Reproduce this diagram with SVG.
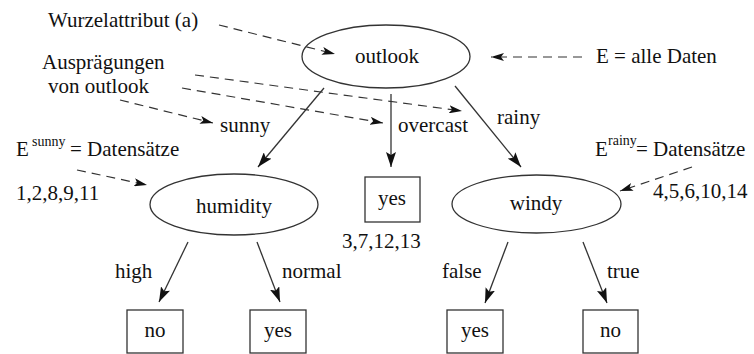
<svg xmlns="http://www.w3.org/2000/svg" width="754" height="354" viewBox="0 0 754 354" font-family="Liberation Serif, serif">
<style>
text{font-family:'Liberation Serif',serif;font-size:21px;fill:#111}
.m{text-anchor:middle}
.sup{font-size:14px}
.node{fill:#fff;stroke:#333;stroke-width:1.3}
.edge{fill:none;stroke:#333;stroke-width:1.3}
.dash{fill:none;stroke:#333;stroke-width:1.2;stroke-dasharray:9 6}
</style>
<defs>
<marker id="ah" markerUnits="userSpaceOnUse" markerWidth="16" markerHeight="10" refX="15" refY="5" orient="auto">
<path d="M0,0 L15,5 L0,10 L3,5 z" fill="#111"/>
</marker>
<marker id="ahd" markerUnits="userSpaceOnUse" markerWidth="14" markerHeight="8" refX="13" refY="4" orient="auto">
<path d="M0,0 L13,4 L0,8 L3,4 z" fill="#111"/>
</marker>
</defs>
<rect width="754" height="354" fill="#fff"/>
<g id="outlook">
<ellipse class="node" cx="386" cy="56.5" rx="84" ry="31.5"/>
<text class="m" x="387" y="63" font-family="Liberation Serif, serif">outlook</text>
</g>
<g id="humidity">
<ellipse class="node" cx="234" cy="204.5" rx="84" ry="30.5"/>
<text class="m" x="234" y="213" font-family="Liberation Serif, serif">humidity</text>
</g>
<g id="windy">
<ellipse class="node" cx="536.5" cy="204" rx="84.5" ry="29"/>
<text class="m" x="536" y="210" font-family="Liberation Serif, serif">windy</text>
</g>
<g id="yes_overcast">
<rect class="node" x="365" y="177" width="55" height="45"/>
<text class="m" x="392" y="205" font-family="Liberation Serif, serif">yes</text>
</g>
<g id="no_high">
<rect class="node" x="127" y="310" width="56" height="43"/>
<text class="m" x="155" y="337" font-family="Liberation Serif, serif">no</text>
</g>
<g id="yes_normal">
<rect class="node" x="250" y="310" width="56" height="43"/>
<text class="m" x="278" y="337" font-family="Liberation Serif, serif">yes</text>
</g>
<g id="yes_false">
<rect class="node" x="447" y="310" width="56" height="43"/>
<text class="m" x="475" y="337" font-family="Liberation Serif, serif">yes</text>
</g>
<g id="no_true">
<rect class="node" x="583" y="310" width="55" height="43"/>
<text class="m" x="610.5" y="337" font-family="Liberation Serif, serif">no</text>
</g>
<g id="connectors">
<path class="edge" d="M324,88 L258,167" marker-end="url(#ah)"/>
<path class="edge" d="M391,94 L391,167" marker-end="url(#ah)"/>
<path class="edge" d="M455,86 L521,167" marker-end="url(#ah)"/>
<path class="edge" d="M188,242 L159,302" marker-end="url(#ah)"/>
<path class="edge" d="M257,242 L280,302" marker-end="url(#ah)"/>
<path class="edge" d="M508,242 L485,303" marker-end="url(#ah)"/>
<path class="edge" d="M583,242 L607,303" marker-end="url(#ah)"/>
<path class="dash" d="M219,25 L335,54" marker-end="url(#ahd)"/>
<path class="dash" d="M195,75 L462,111" marker-end="url(#ahd)"/>
<path class="dash" d="M182,88 L383,123" marker-end="url(#ahd)"/>
<path class="dash" d="M120,100 L213,123" marker-end="url(#ahd)"/>
<path class="dash" d="M582,57 L491,57" marker-end="url(#ahd)"/>
<path class="dash" d="M77,170 L147,185" marker-end="url(#ahd)"/>
<path class="dash" d="M692,167 L620,191" marker-end="url(#ahd)"/>
</g>
<g id="labels" font-family="Liberation Serif, serif">
<text x="48" y="27">Wurzelattribut (a)</text>
<text x="42" y="69">Ausprägungen</text>
<text x="48" y="93">von outlook</text>
<text x="596" y="63">E = alle Daten</text>
<text x="220" y="132">sunny</text>
<text x="398" y="132">overcast</text>
<text x="497" y="124">rainy</text>
<text x="16" y="156">E</text>
<text class="sup" x="32" y="146">sunny</text>
<text x="70" y="156">= Datensätze</text>
<text x="16" y="200">1,2,8,9,11</text>
<text x="595" y="156">E</text>
<text class="sup" x="608" y="145">rainy</text>
<text x="636" y="156">= Datensätze</text>
<text x="653" y="198">4,5,6,10,14</text>
<text x="342" y="248">3,7,12,13</text>
<text x="115" y="278">high</text>
<text x="282" y="278">normal</text>
<text x="442" y="278">false</text>
<text x="607" y="278">true</text>
</g>
</svg>
